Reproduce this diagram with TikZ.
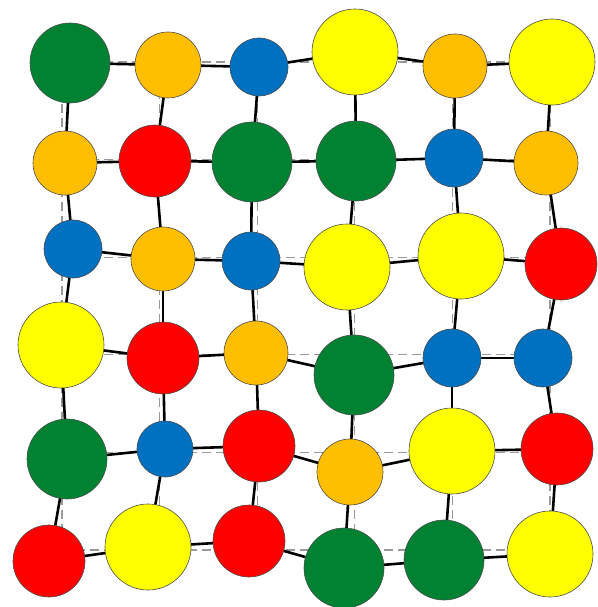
\documentclass[tikz,border=0pt]{standalone}
\begin{document}
\begin{tikzpicture}[x=1pt,y=-1pt,
  ball/.style={circle,draw=gray!60!black,line width=0.6pt,inner sep=0pt},
  bond/.style={line width=2.6pt,black},
  lattice/.style={line width=1.1pt,gray!80,dash pattern=on 9pt off 5pt}]
\definecolor{cg}{RGB}{0,130,50}
\definecolor{co}{RGB}{255,190,0}
\definecolor{cb}{RGB}{0,112,192}
\definecolor{cy}{RGB}{255,255,0}
\definecolor{cr}{RGB}{255,0,0}
\useasboundingbox (0,0) rectangle (597,607);
% regular lattice (dashed)
\foreach \i in {0,...,5} {
  \pgfmathsetmacro\p{62+97.6*\i}
  \draw[lattice] (\p,62) -- (\p,551);
  \draw[lattice] (62,\p) -- (550,\p);
}
% coordinates of balls
\foreach \n/\x/\y in {
 11/70/63, 12/168/65, 13/259/67, 14/355/52, 15/455/66, 16/552/62,
 21/65/163, 22/155/161, 23/252/162, 24/356/161, 25/454/158, 26/546/163,
 31/73/249, 32/163/259, 33/251/261, 34/347/267, 35/461/256, 36/561/264,
 41/61/345, 42/163/358, 43/256/353, 44/354/375, 45/452/358, 46/543/358,
 51/67/459, 52/165/449, 53/259/446, 54/350/472, 55/452/451, 56/557/449,
 61/49/561, 62/148/547, 63/249/541, 64/344/568, 65/444/560, 66/550/554}
  \coordinate (c\n) at (\x,\y);
% bonds
\foreach \r in {1,...,6} {
  \foreach \c [evaluate=\c as \cn using int(\c+1)] in {1,...,5}
    \draw[bond] (c\r\c) -- (c\r\cn);
}
\foreach \r [evaluate=\r as \rn using int(\r+1)] in {1,...,5} {
  \foreach \c in {1,...,6}
    \draw[bond] (c\r\c) -- (c\rn\c);
}
% balls
\foreach \n/\r/\col in {
 11/40/cg, 12/33/co, 13/29/cb, 14/43/cy, 15/32/co, 16/43/cy,
 21/32/co, 22/36/cr, 23/40/cg, 24/40/cg, 25/29/cb, 26/32/co,
 31/29/cb, 32/32/co, 33/29/cb, 34/43/cy, 35/43/cy, 36/36/cr,
 41/43/cy, 42/36/cr, 43/32/co, 44/40/cg, 45/29/cb, 46/29/cb,
 51/40/cg, 52/28/cb, 53/36/cr, 54/33/co, 55/43/cy, 56/36/cr,
 61/36/cr, 62/43/cy, 63/36/cr, 64/40/cg, 65/40/cg, 66/43/cy}
  \node[ball,fill=\col,minimum size=2*\r pt] (n\n) at (c\n) {};
\end{tikzpicture}
\end{document}
